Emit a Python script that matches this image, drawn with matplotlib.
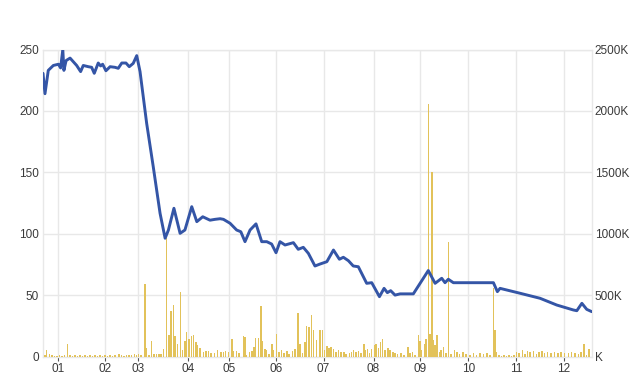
import matplotlib
matplotlib.use("Agg")
import matplotlib.pyplot as plt
from matplotlib.ticker import FixedLocator, FuncFormatter

plt.rcParams['font.family'] = ['Liberation Sans', 'DejaVu Sans']

# ---- data (x = trading-day index) ----
price_day = [0.0, 0.9, 2.4, 4.7, 7.0, 8.0, 9.0, 9.5, 10.5, 12.3, 13.8, 15.3, 17.1, 18.3,
             20.6, 22.1, 23.3, 25.1, 26.2, 27.1, 28.6, 30.5, 32.7, 34.2, 35.8, 37.7, 39.2,
             41.0, 42.6, 44.1, 47.1, 50.1, 53.2, 55.5, 57.0, 59.5, 62.3, 64.5, 67.6, 69.9,
             72.6, 75.9, 78.2, 80.5, 82.0, 85.0, 88.0, 89.9, 91.8, 94.1, 96.8, 99.4, 101.7,
             103.9, 105.9, 107.7, 110.0, 113.8, 116.0, 118.3, 120.6, 123.6, 125.9, 129.0,
             132.0, 134.7, 136.5, 138.8, 141.0, 143.3, 147.1, 149.4, 152.9, 155.0, 156.5,
             158.0, 160.0, 162.3, 168.3, 175.1, 178.2, 181.2, 182.7, 184.2, 186.5, 192.6,
             198.6, 204.7, 206.5, 207.7, 216.8, 225.9, 233.5, 241.0, 242.6, 244.9, 247.1,
             249.4]
price = [230.6, 214, 233, 237, 238, 235, 250, 233, 241, 243, 240, 237, 232, 237,
         236, 235.5, 230.6, 239, 236.6, 238, 232.7, 236, 235.5, 234.7, 239, 239, 236,
         238.7, 245, 232, 190, 154.6, 116.6, 96.3, 103, 120.7, 100.3, 103, 122, 109.8,
         113.8, 111, 111.7, 112.2, 111.7, 108.5, 103, 101.6, 93.5, 103, 108, 93.5, 93.5,
         91.6, 84.5, 93.5, 90.8, 92.7, 87.3, 88.9, 84, 73.7, 75.3, 77.2,
         86.7, 79.2, 80.8, 78, 73.7, 73.1, 59.6, 60.1, 48.7, 55.5, 52,
         53.6, 50, 51, 51, 70, 59.6, 63.7, 60.1, 62.9, 60.1, 60.1,
         60.1, 60.1, 52.8, 55.5, 51.5, 47.4, 41.9, 37.9, 37.3, 43.3, 38.4,
         36.5]

volume_day = [0.9, 1.7, 3.0, 4.1, 5.2, 6.4, 7.5, 8.6, 9.8, 11.2, 12.3, 13.4, 14.5, 15.7,
              16.8, 18.0, 19.1, 20.2, 21.4, 22.5, 23.6, 24.8, 25.9, 27.0, 28.2, 29.3, 30.5,
              31.6, 32.7, 34.5, 35.7, 36.8, 38.0, 39.1, 40.2, 41.5, 42.5, 43.3, 44.5,
              46.4, 47.1, 48.2, 49.4, 50.5, 51.6, 52.7, 53.6, 54.7, 56.2, 57.3, 58.2, 59.2,
              60.0, 61.2, 62.6, 63.3, 64.5, 65.3, 66.4, 67.6, 68.3, 69.5, 70.3, 71.4, 72.9,
              74.0, 75.1, 76.4, 77.9, 79.4, 80.9, 82.0, 83.0, 84.2, 85.8, 86.5, 88.0, 89.1,
              91.0, 91.8, 92.6, 93.8, 94.9, 95.9, 96.7, 97.9, 99.1, 99.7, 100.9, 101.7,
              102.7, 104.0, 104.7, 106.2, 107.3, 108.5, 109.5, 110.8, 111.8, 113.3, 114.5,
              115.8, 116.8, 117.9, 119.1, 119.7, 120.9, 122.1, 122.9, 124.4, 125.9, 127.0,
              127.9, 129.0, 130.0, 130.9, 132.1, 133.2, 134.2, 135.5, 136.7, 137.7, 139.2,
              140.3, 141.2, 142.3, 143.3, 144.5, 145.8, 146.5, 147.6, 148.3, 149.4, 150.6,
              151.4, 152.4, 153.3, 154.4, 155.5, 156.7, 157.7, 159.0, 160.0, 161.2, 162.7,
              164.0, 165.8, 166.8, 168.0, 169.1, 170.6, 171.4, 172.1, 173.3, 174.1, 175.1,
              175.9, 176.7, 177.4, 178.2, 179.1, 180.1, 180.9, 182.1, 183.2, 184.2, 185.5,
              187.0, 188.2, 189.2, 190.8, 192.3, 194.1, 195.6, 197.1, 198.6, 200.1, 201.7,
              203.2, 204.7, 205.5, 206.2, 207.3, 208.4, 209.5, 210.7, 211.8, 213.0, 214.1,
              215.3, 216.4, 217.9, 219.1, 220.1, 221.4, 222.9, 224.4, 225.5, 226.7, 227.9,
              229.4, 230.9, 232.4, 234.0, 235.5, 237.0, 238.8, 240.3, 241.8, 243.3, 244.5,
              245.9, 247.1, 248.2]
volume_k = [10, 50, 22, 10, 8, 8, 10, 8, 14, 98, 10, 8, 10, 8,
            10, 8, 10, 8, 10, 8, 10, 8, 10, 8, 10, 8, 10,
            8, 12, 22, 10, 8, 10, 12, 10, 20, 10, 20, 10,
            590, 68, 15, 130, 20, 20, 18, 20, 62, 965, 176, 374, 420,
            165, 98, 523, 57, 130, 198, 140, 167, 177, 117, 90, 70, 35,
            41, 41, 27, 27, 54, 33, 33, 41, 35, 144, 41, 41, 27,
            163, 155, 16, 35, 41, 76, 152, 152, 410, 130, 62, 49,
            22, 98, 54, 184, 35, 49, 27, 41, 22, 43, 62,
            352, 98, 27, 117, 252, 239, 334, 217, 136, 217, 217,
            49, 84, 70, 81, 62, 35, 49, 35, 35, 22, 27,
            35, 49, 35, 41, 27, 98, 54, 62, 27, 62, 90,
            103, 70, 117, 144, 54, 70, 49, 35, 27, 22, 27,
            14, 76, 27, 35, 16, 176, 130, 54, 103, 144, 2060,
            185, 1500, 136, 90, 179, 35, 54, 76, 27, 935, 22,
            49, 35, 22, 35, 22, 16, 27, 16, 27, 22, 27,
            16, 560, 217, 35, 10, 8, 10, 8, 10, 8, 10,
            35, 27, 49, 22, 43, 35, 41, 22, 35, 43, 27,
            35, 27, 35, 27, 35, 27, 27, 35, 27, 22, 35,
            103, 16, 62]

month_ticks = [7.0, 28.2, 43.3, 66.1, 84.7, 105.9, 127.5, 150.2, 171.4, 193.3, 214.9, 236.8]
month_labels = ["01", "02", "03", "04", "05", "06", "07", "08", "09", "10", "11", "12"]
price_ticks = [0, 50, 100, 150, 200, 250]
volume_ticks = [0, 500, 1000, 1500, 2000, 2500]

# ---- figure ----
fig = plt.figure(figsize=(6.4, 3.84), dpi=100)
ax2 = fig.add_axes([43 / 640, 1 - 356.5 / 384, 549 / 640, 307 / 384])  # volume (back)
ax = fig.add_axes(ax2.get_position(), sharex=ax2)  # price (front)
ax.patch.set_visible(False)

grid_c = "#e8e8e8"
text_c = "#3a3a3a"

ax2.bar(volume_day, volume_k, width=0.65, color="#e2c25a", linewidth=0, zorder=3)
ax2.set_ylim(0, 2500)
ax2.set_xlim(0, 249.5)
ax2.yaxis.tick_right()
ax2.yaxis.set_major_locator(FixedLocator(volume_ticks))
ax2.yaxis.set_major_formatter(FuncFormatter(lambda v, p: "K" if v == 0 else f"{int(v)}K"))
ax2.tick_params(axis="y", length=0, pad=2, labelsize=8.5, labelcolor=text_c)
ax2.xaxis.set_major_locator(FixedLocator(month_ticks))
ax2.set_xticklabels(month_labels)
ax2.tick_params(axis="x", length=3, width=0.8, color="#555555", pad=2,
                labelsize=8.5, labelcolor=text_c)
ax2.grid(True, color=grid_c, linewidth=1.0, zorder=0)
ax2.set_axisbelow(True)
for s in ax2.spines.values():
    s.set_color(grid_c)
    s.set_linewidth(1.0)

ax.plot(price_day, price, color="#3455a6", linewidth=2.1, solid_joinstyle="round",
        solid_capstyle="round", zorder=5)
ax.set_ylim(0, 250)
ax.yaxis.set_major_locator(FixedLocator(price_ticks))
ax.tick_params(axis="y", length=0, pad=3, labelsize=8.5, labelcolor=text_c)
ax.tick_params(axis="x", which="both", length=0, labelbottom=False)
for s in ax.spines.values():
    s.set_visible(False)

fig.savefig("out.png", dpi=100)
